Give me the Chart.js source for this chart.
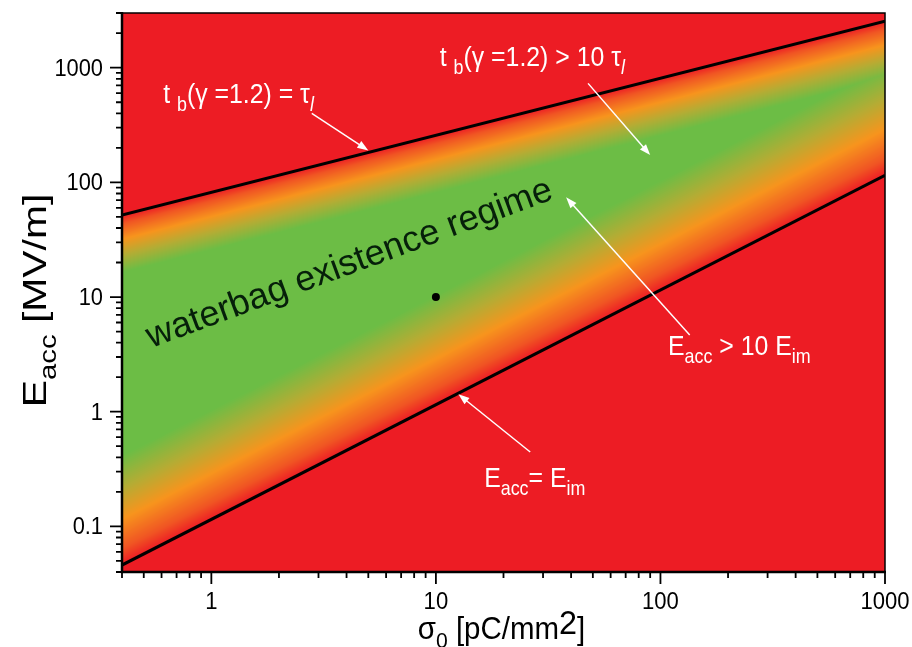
<!DOCTYPE html>
<html>
<head>
<meta charset="utf-8">
<title>Waterbag existence regime</title>
<script src="https://cdn.jsdelivr.net/npm/chart.js@4.4.1/dist/chart.umd.min.js"></script>
<style>
  html, body { margin: 0; padding: 0; background: #fff; }
  #wrap { width: 912px; height: 647px; }
</style>
</head>
<body>
<div id="wrap"><canvas id="chart" width="912" height="647"></canvas></div>
<script>
// Boundaries (straight lines on log-log axes)
const sigma = [0.4, 1000];        // σ0 [pC/mm2]
const upperE = [51.8, 2550];      // t_b(γ=1.2) = τ_l   [MV/m]
const lowerE = [0.046, 115];      // E_acc = E_im       [MV/m]
const markSigma = [10];
const markE = [10];

// How far from each boundary the colour has faded to green (ratio in E)
const upperRatio = 3.16;          // t_b > 10 τ_l
const lowerRatio = 9;             // E_acc > 10 E_im

// Axes
const xRange = [0.4, 1000];
const yRange = [0.04, 3000];
const xTickLabels = [1, 10, 100, 1000];
const yTickLabels = [0.1, 1, 10, 100, 1000];

const FONT = '"Liberation Sans", Arial, sans-serif';
const SQUEEZE = 0.92;   // text in the figure looks slightly condensed

// red -> orange -> green, t = 0 at a boundary, t = 1 well inside
const colorStops = [
    [0.00, [237, 28, 36]],
    [0.15, [240, 85, 35]],
    [0.42, [247, 148, 29]],
    [0.70, [180, 172, 52]],
    [1.00, [108, 189, 69]]
];

function minorTicks(min, max, majors) {
    const out = [];
    for (let d = Math.floor(Math.log10(min)); d <= Math.ceil(Math.log10(max)); d++) {
        for (let k = 1; k <= 9; k++) {
            const v = k * Math.pow(10, d);
            if (v >= min * 0.999 && v <= max * 1.001 && !majors.some(m => Math.abs(m - v) < v * 1e-6)) out.push(v);
        }
    }
    return out;
}

function logInterp(xs, ys, x) {
    const lx = Math.log10(x);
    const x0 = Math.log10(xs[0]), x1 = Math.log10(xs[xs.length - 1]);
    const y0 = Math.log10(ys[0]), y1 = Math.log10(ys[ys.length - 1]);
    return Math.pow(10, y0 + (y1 - y0) * (lx - x0) / (x1 - x0));
}

function colorAt(t) {
    for (let i = 1; i < colorStops.length; i++) {
        if (t <= colorStops[i][0]) {
            const [t0, c0] = colorStops[i - 1];
            const [t1, c1] = colorStops[i];
            const f = (t - t0) / (t1 - t0);
            return c0.map((c, k) => c + (c1[k] - c) * f);
        }
    }
    return colorStops[colorStops.length - 1][1];
}

// Rich text: parts = [{text, sub, italic, rise, scale}]
function richWidth(ctx, parts, size) {
    let w = 0;
    parts.forEach(p => {
        const fs = size * (p.scale || (p.sub ? 0.72 : 1));
        ctx.font = (p.italic ? 'italic ' : '') + fs + 'px ' + FONT;
        w += ctx.measureText(p.text).width;
    });
    return w;
}

function drawRich(ctx, x, y, parts, size, sx, align) {
    ctx.save();
    ctx.translate(x, y);
    ctx.scale(sx, 1);
    let cx = 0;
    if (align === 'center') cx = -richWidth(ctx, parts, size) / 2;
    ctx.textBaseline = 'alphabetic';
    ctx.textAlign = 'left';
    parts.forEach(p => {
        const fs = size * (p.scale || (p.sub ? 0.72 : 1));
        ctx.font = (p.italic ? 'italic ' : '') + fs + 'px ' + FONT;
        const dy = p.sub ? size * 0.3 : -(p.rise || 0);
        ctx.fillText(p.text, cx, dy);
        cx += ctx.measureText(p.text).width;
    });
    ctx.restore();
}

// Annotations, anchored in data coordinates
const labels = [
    { at: [0.61, 490], parts: [{ text: 't ' }, { text: 'b', sub: true }, { text: '(γ =1.2) = τ' }, { text: 'l', sub: true, italic: true }] },
    { at: [10.4, 1030], parts: [{ text: 't ' }, { text: 'b', sub: true }, { text: '(γ =1.2) > 10 τ' }, { text: 'l', sub: true, italic: true }] },
    { at: [108, 3.1], parts: [{ text: 'E' }, { text: 'acc', sub: true }, { text: ' > 10 E' }, { text: 'im', sub: true }] },
    { at: [16.4, 0.22], parts: [{ text: 'E' }, { text: 'acc', sub: true }, { text: '= E' }, { text: 'im', sub: true }] }
];
const arrows = [
    { from: [2.8, 400], to: [5.0, 190] },
    { from: [47.6, 730], to: [90, 173] },
    { from: [135, 4.66], to: [38, 74] },
    { from: [26.3, 0.445], to: [12.6, 1.42] }
];

const shading = {
    id: 'shading',
    beforeDatasetsDraw(chart) {
        const { ctx, chartArea, scales: { x, y } } = chart;
        const left = Math.round(chartArea.left), top = Math.round(chartArea.top);
        const w = Math.round(chartArea.right) - left, h = Math.round(chartArea.bottom) - top;
        const img = ctx.createImageData(w, h);
        const lu = Math.log10(upperRatio), ll = Math.log10(lowerRatio);
        for (let i = 0; i < w; i++) {
            const s = x.getValueForPixel(left + i + 0.5);
            const up = logInterp(sigma, upperE, s);
            const lo = logInterp(sigma, lowerE, s);
            for (let j = 0; j < h; j++) {
                const e = y.getValueForPixel(top + j + 0.5);
                let t = 0;
                if (e < up && e > lo) {
                    t = Math.min(1, Math.log10(up / e) / lu, Math.log10(e / lo) / ll);
                }
                const c = colorAt(t);
                const k = (j * w + i) * 4;
                img.data[k] = c[0]; img.data[k + 1] = c[1]; img.data[k + 2] = c[2]; img.data[k + 3] = 255;
            }
        }
        ctx.putImageData(img, left, top);
    }
};

const decorations = {
    id: 'decorations',
    afterDraw(chart) {
        const { ctx, chartArea: { left, right, top, bottom }, scales: { x, y } } = chart;
        ctx.save();

        // rotated regime label
        ctx.save();
        ctx.translate(x.getPixelForValue(0.54), y.getPixelForValue(3.6));
        ctx.rotate(-20.3 * Math.PI / 180);
        ctx.fillStyle = '#061f0a';
        ctx.font = '36px ' + FONT;
        ctx.textBaseline = 'alphabetic';
        ctx.fillText('waterbag existence regime', 0, 0);
        ctx.restore();

        // white annotations
        ctx.fillStyle = '#fff';
        labels.forEach(l => {
            drawRich(ctx, x.getPixelForValue(l.at[0]), y.getPixelForValue(l.at[1]), l.parts, 27, SQUEEZE);
        });
        ctx.strokeStyle = '#fff';
        ctx.lineWidth = 1.5;
        arrows.forEach(a => {
            const x0 = x.getPixelForValue(a.from[0]), y0 = y.getPixelForValue(a.from[1]);
            const x1 = x.getPixelForValue(a.to[0]), y1 = y.getPixelForValue(a.to[1]);
            const ang = Math.atan2(y1 - y0, x1 - x0);
            ctx.beginPath();
            ctx.moveTo(x0, y0);
            ctx.lineTo(x1 - 8 * Math.cos(ang), y1 - 8 * Math.sin(ang));
            ctx.stroke();
            ctx.beginPath();
            ctx.moveTo(x1, y1);
            ctx.lineTo(x1 - 11 * Math.cos(ang) + 4 * Math.sin(ang), y1 - 11 * Math.sin(ang) - 4 * Math.cos(ang));
            ctx.lineTo(x1 - 11 * Math.cos(ang) - 4 * Math.sin(ang), y1 - 11 * Math.sin(ang) + 4 * Math.cos(ang));
            ctx.closePath();
            ctx.fill();
        });

        // frame
        ctx.strokeStyle = '#000';
        ctx.lineWidth = 1.5;
        ctx.beginPath();
        ctx.moveTo(left, top); ctx.lineTo(right, top); ctx.lineTo(right, bottom);
        ctx.stroke();
        ctx.lineWidth = 2.5;
        ctx.beginPath();
        ctx.moveTo(left, top - 1); ctx.lineTo(left, bottom); ctx.lineTo(right + 1, bottom);
        ctx.stroke();

        // ticks
        ctx.lineWidth = 1.8;
        const xMinor = minorTicks(xRange[0], xRange[1], xTickLabels);
        const yMinor = minorTicks(yRange[0], yRange[1], yTickLabels);
        ctx.beginPath();
        xTickLabels.forEach(v => { const p = x.getPixelForValue(v); ctx.moveTo(p, bottom); ctx.lineTo(p, bottom + 12); });
        xMinor.forEach(v => { const p = x.getPixelForValue(v); ctx.moveTo(p, bottom); ctx.lineTo(p, bottom + 6); });
        yTickLabels.forEach(v => { const p = y.getPixelForValue(v); ctx.moveTo(left, p); ctx.lineTo(left - 12, p); });
        yMinor.forEach(v => { const p = y.getPixelForValue(v); ctx.moveTo(left, p); ctx.lineTo(left - 6, p); });
        ctx.stroke();

        // tick labels
        ctx.fillStyle = '#000';
        xTickLabels.forEach(v => {
            drawRich(ctx, x.getPixelForValue(v), bottom + 37, [{ text: String(v) }], 24, SQUEEZE, 'center');
        });
        yTickLabels.forEach(v => {
            const parts = [{ text: String(v) }];
            const wdt = richWidth(ctx, parts, 23) * 0.95;
            drawRich(ctx, left - 19 - wdt, y.getPixelForValue(v) + 8, parts, 23, 0.95);
        });

        // axis titles
        drawRich(ctx, (left + right) / 2 - 2, 639,
            [{ text: 'σ' }, { text: '0', sub: true }, { text: ' [pC/mm' }, { text: '2', rise: 5, scale: 1.1 }, { text: ']' }], 31, 0.95, 'center');
        ctx.save();
        ctx.translate(46, (top + bottom) / 2 + 8);
        ctx.rotate(-Math.PI / 2);
        drawRich(ctx, 0, 0, [{ text: 'E' }, { text: 'acc', sub: true }, { text: ' [MV/m]' }], 34, 1.2, 'center');
        ctx.restore();

        ctx.restore();
    }
};

const ctx = document.getElementById('chart').getContext('2d');
new Chart(ctx, {
    type: 'scatter',
    data: {
        datasets: [
            {
                label: 'E_acc = E_im',
                data: sigma.map((s, i) => ({ x: s, y: lowerE[i] })),
                showLine: true, borderColor: '#000', borderWidth: 3, pointRadius: 0
            },
            {
                label: 't_b(γ=1.2) = τ_l',
                data: sigma.map((s, i) => ({ x: s, y: upperE[i] })),
                showLine: true, borderColor: '#000', borderWidth: 3, pointRadius: 0
            },
            {
                label: 'point',
                data: markSigma.map((s, i) => ({ x: s, y: markE[i] })),
                pointRadius: 4, backgroundColor: '#000', borderColor: '#000', borderWidth: 0
            }
        ]
    },
    options: {
        responsive: false,
        animation: false,
        devicePixelRatio: 1,
        layout: { padding: { top: 13, right: 27, left: 0, bottom: 0 } },
        plugins: { legend: { display: false }, tooltip: { enabled: false } },
        scales: {
            x: {
                type: 'logarithmic', min: xRange[0], max: xRange[1], bounds: 'data',
                grid: { display: false }, border: { display: false }, ticks: { display: false },
                afterFit: s => { s.height = 75; }
            },
            y: {
                type: 'logarithmic', min: yRange[0], max: yRange[1], bounds: 'data',
                grid: { display: false }, border: { display: false }, ticks: { display: false },
                afterFit: s => { s.width = 122; }
            }
        }
    },
    plugins: [shading, decorations]
});
</script>
</body>
</html>
